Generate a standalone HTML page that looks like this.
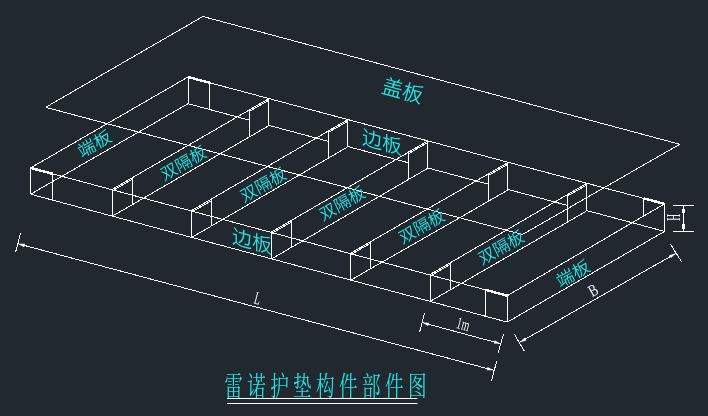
<!DOCTYPE html>
<html lang="zh"><head><meta charset="utf-8"><title>雷诺护垫构件部件图</title>
<style>
html,body{margin:0;padding:0;background:#212830;}
body{width:708px;height:416px;overflow:hidden;}
svg{display:block;will-change:transform;}
.cj{font-family:"Liberation Sans","Noto Sans CJK SC",sans-serif;font-weight:350;fill:#25e2e2;}
.tt{font-family:"Liberation Serif","Noto Serif CJK SC",serif;font-weight:400;fill:#25e2e2;}
.dm{font-family:"Liberation Serif","Noto Serif CJK SC",serif;fill:#f4f4f4;}
</style></head><body>
<svg width="708" height="416" viewBox="0 0 708 416">
<rect width="708" height="416" fill="#212830"/>
<g stroke="#ffffff" stroke-linecap="butt" fill="none" shape-rendering="crispEdges">
<line x1="30.60" y1="167.90" x2="507.30" y2="295.70" stroke-width="1.0"/>
<line x1="507.30" y1="295.70" x2="664.50" y2="203.90" stroke-width="1.0"/>
<line x1="664.50" y1="203.90" x2="188.00" y2="77.00" stroke-width="1.0"/>
<line x1="188.00" y1="77.00" x2="30.60" y2="167.90" stroke-width="1.0"/>
<line x1="30.60" y1="194.20" x2="507.30" y2="322.10" stroke-width="1.0"/>
<line x1="507.30" y1="322.10" x2="664.50" y2="231.40" stroke-width="1.0"/>
<line x1="188.00" y1="103.70" x2="30.60" y2="194.20" stroke-width="1.0"/>
<line x1="30.60" y1="167.90" x2="30.60" y2="194.20" stroke-width="1.0"/>
<line x1="507.30" y1="295.70" x2="507.30" y2="322.10" stroke-width="1.0"/>
<line x1="188.00" y1="77.00" x2="188.00" y2="103.70" stroke-width="1.0"/>
<line x1="664.50" y1="203.90" x2="664.50" y2="231.40" stroke-width="1.0"/>
<line x1="112.40" y1="189.23" x2="268.00" y2="99.11" stroke-width="1.0"/>
<line x1="112.40" y1="216.15" x2="268.00" y2="126.14" stroke-width="1.0"/>
<line x1="112.40" y1="189.23" x2="112.40" y2="216.15" stroke-width="1.0"/>
<line x1="268.00" y1="99.11" x2="268.00" y2="126.14" stroke-width="1.0"/>
<line x1="132.60" y1="177.53" x2="132.60" y2="204.45" stroke-width="1.0"/>
<line x1="112.40" y1="189.23" x2="132.60" y2="177.53" stroke-width="1.0"/>
<line x1="112.40" y1="190.83" x2="132.60" y2="179.13" stroke-width="1.0"/>
<line x1="249.40" y1="109.81" x2="249.40" y2="136.84" stroke-width="1.0"/>
<line x1="268.00" y1="99.11" x2="249.40" y2="109.81" stroke-width="1.0"/>
<line x1="268.00" y1="100.71" x2="249.40" y2="111.41" stroke-width="1.0"/>
<line x1="188.00" y1="103.70" x2="249.40" y2="120.15" stroke-width="1.0"/>
<line x1="191.70" y1="210.49" x2="347.00" y2="120.14" stroke-width="1.0"/>
<line x1="191.70" y1="237.42" x2="347.00" y2="147.31" stroke-width="1.0"/>
<line x1="191.70" y1="210.49" x2="191.70" y2="237.42" stroke-width="1.0"/>
<line x1="347.00" y1="120.14" x2="347.00" y2="147.31" stroke-width="1.0"/>
<line x1="211.90" y1="198.79" x2="211.90" y2="225.72" stroke-width="1.0"/>
<line x1="191.70" y1="210.49" x2="211.90" y2="198.79" stroke-width="1.0"/>
<line x1="191.70" y1="212.09" x2="211.90" y2="200.39" stroke-width="1.0"/>
<line x1="328.40" y1="130.84" x2="328.40" y2="158.01" stroke-width="1.0"/>
<line x1="347.00" y1="120.14" x2="328.40" y2="130.84" stroke-width="1.0"/>
<line x1="347.00" y1="121.74" x2="328.40" y2="132.44" stroke-width="1.0"/>
<line x1="268.00" y1="125.14" x2="328.40" y2="141.33" stroke-width="1.0"/>
<line x1="271.60" y1="231.91" x2="427.00" y2="141.45" stroke-width="1.0"/>
<line x1="271.60" y1="258.86" x2="427.00" y2="168.75" stroke-width="1.0"/>
<line x1="271.60" y1="231.91" x2="271.60" y2="258.86" stroke-width="1.0"/>
<line x1="427.00" y1="141.45" x2="427.00" y2="168.75" stroke-width="1.0"/>
<line x1="291.80" y1="220.21" x2="291.80" y2="247.16" stroke-width="1.0"/>
<line x1="271.60" y1="231.91" x2="291.80" y2="220.21" stroke-width="1.0"/>
<line x1="271.60" y1="233.51" x2="291.80" y2="221.81" stroke-width="1.0"/>
<line x1="408.40" y1="152.15" x2="408.40" y2="179.45" stroke-width="1.0"/>
<line x1="427.00" y1="141.45" x2="408.40" y2="152.15" stroke-width="1.0"/>
<line x1="427.00" y1="143.05" x2="408.40" y2="153.75" stroke-width="1.0"/>
<line x1="347.00" y1="146.31" x2="408.40" y2="162.77" stroke-width="1.0"/>
<line x1="350.75" y1="253.13" x2="507.50" y2="162.89" stroke-width="1.0"/>
<line x1="350.75" y1="280.10" x2="507.50" y2="190.32" stroke-width="1.0"/>
<line x1="350.75" y1="253.13" x2="350.75" y2="280.10" stroke-width="1.0"/>
<line x1="507.50" y1="162.89" x2="507.50" y2="190.32" stroke-width="1.0"/>
<line x1="370.95" y1="241.43" x2="370.95" y2="268.40" stroke-width="1.0"/>
<line x1="350.75" y1="253.13" x2="370.95" y2="241.43" stroke-width="1.0"/>
<line x1="350.75" y1="254.73" x2="370.95" y2="243.03" stroke-width="1.0"/>
<line x1="488.90" y1="173.59" x2="488.90" y2="201.02" stroke-width="1.0"/>
<line x1="507.50" y1="162.89" x2="488.90" y2="173.59" stroke-width="1.0"/>
<line x1="507.50" y1="164.49" x2="488.90" y2="175.19" stroke-width="1.0"/>
<line x1="427.00" y1="167.75" x2="488.90" y2="184.34" stroke-width="1.0"/>
<line x1="430.20" y1="274.43" x2="586.00" y2="183.79" stroke-width="1.0"/>
<line x1="430.20" y1="301.41" x2="586.00" y2="211.36" stroke-width="1.0"/>
<line x1="430.20" y1="274.43" x2="430.20" y2="301.41" stroke-width="1.0"/>
<line x1="586.00" y1="183.79" x2="586.00" y2="211.36" stroke-width="1.0"/>
<line x1="450.40" y1="262.73" x2="450.40" y2="289.71" stroke-width="1.0"/>
<line x1="430.20" y1="274.43" x2="450.40" y2="262.73" stroke-width="1.0"/>
<line x1="430.20" y1="276.03" x2="450.40" y2="264.33" stroke-width="1.0"/>
<line x1="567.40" y1="194.49" x2="567.40" y2="222.06" stroke-width="1.0"/>
<line x1="586.00" y1="183.79" x2="567.40" y2="194.49" stroke-width="1.0"/>
<line x1="586.00" y1="185.39" x2="567.40" y2="196.09" stroke-width="1.0"/>
<line x1="507.50" y1="189.32" x2="567.40" y2="205.38" stroke-width="1.0"/>
<line x1="586.00" y1="210.36" x2="664.50" y2="231.40" stroke-width="1.0"/>
<line x1="52.50" y1="173.77" x2="52.50" y2="200.37" stroke-width="1.0"/>
<line x1="30.60" y1="167.90" x2="52.50" y2="173.77" stroke-width="2.5"/>
<line x1="209.50" y1="82.73" x2="209.50" y2="109.33" stroke-width="1.0"/>
<line x1="188.00" y1="77.00" x2="209.50" y2="82.73" stroke-width="2.5"/>
<line x1="485.70" y1="289.91" x2="485.70" y2="316.51" stroke-width="1.0"/>
<line x1="485.70" y1="289.91" x2="507.30" y2="295.70" stroke-width="2.5"/>
<line x1="643.90" y1="198.41" x2="643.90" y2="216.50" stroke-width="1.0"/>
<line x1="643.90" y1="198.41" x2="664.50" y2="203.90" stroke-width="2.5"/>
<line x1="202.90" y1="16.50" x2="45.70" y2="107.30" stroke-width="1.0"/>
<line x1="45.70" y1="107.30" x2="522.50" y2="234.50" stroke-width="1.0"/>
<line x1="522.50" y1="234.50" x2="679.75" y2="144.25" stroke-width="1.0"/>
<line x1="679.75" y1="144.25" x2="202.90" y2="16.50" stroke-width="1.0"/>
<line x1="18.00" y1="243.75" x2="493.75" y2="370.30" stroke-width="1.0"/>
<line x1="20.50" y1="233.00" x2="15.50" y2="252.50" stroke-width="1.0"/>
<line x1="422.00" y1="322.50" x2="500.75" y2="343.75" stroke-width="1.0"/>
<line x1="424.50" y1="313.00" x2="419.50" y2="332.50" stroke-width="1.0"/>
<line x1="503.50" y1="333.90" x2="498.10" y2="353.10" stroke-width="1.0"/>
<line x1="496.70" y1="361.10" x2="491.60" y2="380.60" stroke-width="1.0"/>
<line x1="519.50" y1="342.50" x2="676.00" y2="253.25" stroke-width="1.0"/>
<line x1="514.50" y1="334.50" x2="524.50" y2="351.25" stroke-width="1.0"/>
<line x1="670.50" y1="244.25" x2="681.75" y2="262.00" stroke-width="1.0"/>
<line x1="673.00" y1="205.60" x2="694.20" y2="205.60" stroke-width="1.0"/>
<line x1="673.00" y1="231.50" x2="694.20" y2="231.50" stroke-width="1.0"/>
<line x1="683.65" y1="205.60" x2="683.65" y2="231.50" stroke-width="1.0"/>
<line x1="683.65" y1="208.50" x2="683.65" y2="213.00" stroke-width="2.4"/>
<line x1="683.65" y1="224.00" x2="683.65" y2="228.50" stroke-width="2.4"/>
</g>
<polygon points="18.00,243.75 24.13,247.14 25.01,243.86" fill="#ffffff"/>
<polygon points="493.75,370.30 487.62,366.91 486.74,370.19" fill="#ffffff"/>
<polygon points="422.00,322.50 428.12,325.91 429.01,322.63" fill="#ffffff"/>
<polygon points="500.75,343.75 494.63,340.34 493.74,343.62" fill="#ffffff"/>
<polygon points="519.50,342.50 526.25,340.61 524.56,337.65" fill="#ffffff"/>
<polygon points="676.00,253.25 669.25,255.14 670.94,258.10" fill="#ffffff"/>
<text class="cj" transform="translate(402.8,90.8) rotate(15)" font-size="21" text-anchor="middle" dominant-baseline="central" >盖板</text>
<text class="cj" transform="translate(382,142.5) rotate(0) skewY(15)" font-size="20" text-anchor="middle" dominant-baseline="central" >边板</text>
<text class="cj" transform="translate(252,241.6) rotate(0) skewY(15)" font-size="20" text-anchor="middle" dominant-baseline="central" >边板</text>
<text class="cj" transform="translate(94.6,144.0) rotate(-30) skewX(-4) scale(1.08,1)" font-size="16.8" text-anchor="middle" dominant-baseline="central" >端板</text>
<text class="cj" transform="translate(573.2,273.8) rotate(-30) skewX(-4) scale(1.08,1)" font-size="16.8" text-anchor="middle" dominant-baseline="central" >端板</text>
<text class="cj" transform="translate(183.60000000000002,163.60000000000002) rotate(-30) skewX(-4) scale(1.03,1)" font-size="16.3" text-anchor="middle" dominant-baseline="central" >双隔板</text>
<text class="cj" transform="translate(263.3,185.3) rotate(-30) skewX(-4) scale(1.03,1)" font-size="16.3" text-anchor="middle" dominant-baseline="central" >双隔板</text>
<text class="cj" transform="translate(342.3,203.8) rotate(-30) skewX(-4) scale(1.03,1)" font-size="16.3" text-anchor="middle" dominant-baseline="central" >双隔板</text>
<text class="cj" transform="translate(421.8,226.8) rotate(-30) skewX(-4) scale(1.03,1)" font-size="16.3" text-anchor="middle" dominant-baseline="central" >双隔板</text>
<text class="cj" transform="translate(501.3,247.8) rotate(-30) skewX(-4) scale(1.03,1)" font-size="16.3" text-anchor="middle" dominant-baseline="central" >双隔板</text>
<text class="dm" transform="translate(257.8,298.0) rotate(15) scale(0.55,1)" font-size="18" text-anchor="middle" dominant-baseline="central" >L</text>
<text class="dm" transform="translate(463.2,324.2) rotate(15) scale(0.59,1)" font-size="17" text-anchor="middle" dominant-baseline="central" >1m</text>
<text class="dm" transform="translate(593,290.3) rotate(-30) scale(0.75,1)" font-size="17" text-anchor="middle" dominant-baseline="central" >B</text>
<text class="dm" transform="translate(674.0,217.5) rotate(-90) scale(0.52,1)" font-size="18" text-anchor="middle" dominant-baseline="central" >H</text>
<text class="tt" transform="translate(233.6,386.4) scale(0.69,1)" font-size="27" text-anchor="middle" dominant-baseline="central">雷</text>
<text class="tt" transform="translate(256.6,386.4) scale(0.69,1)" font-size="27" text-anchor="middle" dominant-baseline="central">诺</text>
<text class="tt" transform="translate(279.5,386.4) scale(0.69,1)" font-size="27" text-anchor="middle" dominant-baseline="central">护</text>
<text class="tt" transform="translate(302.4,386.4) scale(0.69,1)" font-size="27" text-anchor="middle" dominant-baseline="central">垫</text>
<text class="tt" transform="translate(325.4,386.4) scale(0.69,1)" font-size="27" text-anchor="middle" dominant-baseline="central">构</text>
<text class="tt" transform="translate(348.4,386.4) scale(0.69,1)" font-size="27" text-anchor="middle" dominant-baseline="central">件</text>
<text class="tt" transform="translate(371.3,386.4) scale(0.69,1)" font-size="27" text-anchor="middle" dominant-baseline="central">部</text>
<text class="tt" transform="translate(394.2,386.4) scale(0.69,1)" font-size="27" text-anchor="middle" dominant-baseline="central">件</text>
<text class="tt" transform="translate(417.2,386.4) scale(0.69,1)" font-size="27" text-anchor="middle" dominant-baseline="central">图</text>
<rect x="227" y="398" width="190.5" height="1" fill="#ffffff"/>
<rect x="227" y="403" width="190.5" height="1" fill="#ffffff"/>
</svg></body></html>
